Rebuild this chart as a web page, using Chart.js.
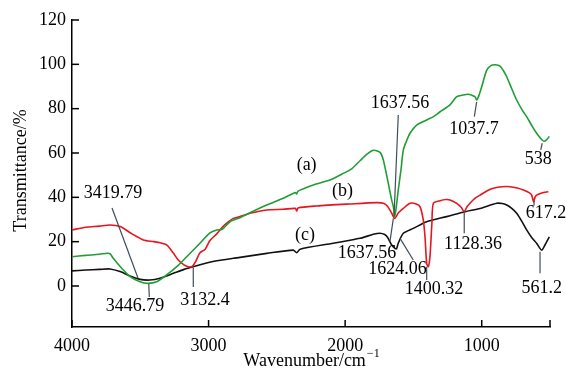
<!DOCTYPE html>
<html><head><meta charset="utf-8">
<script src="https://cdn.jsdelivr.net/npm/chart.js@4/dist/chart.umd.min.js"></script>
</head><body style="margin:0">
<canvas id="c" width="566" height="377"></canvas>
<script>
// ---- data (wavenumber cm^-1, transmittance %) ----
const wnA = [4000,3900,3800,3740,3720,3698,3636,3575,3502,3446,3380,3307,3233,3160,3063,2990,2940,2900,2843,2770,2697,2574,2453,2365,2355,2345,2233,2111,2013,1950,1891,1840,1794,1760,1740,1720,1684,1660,1647,1637,1625,1611,1590,1574,1550,1525,1476,1403,1350,1305,1232,1183,1135,1100,1070,1049,1037,1020,1000,963,930,900,866,840,817,780,744,700,671,630,598,560,540,520,505];
const tA  = [13.2,13.8,14.3,14.8,14.5,12.5,8.0,4.2,1.9,1.2,1.9,5.0,8.7,13.2,19.3,24.0,25.3,25.6,29.0,30.8,33.0,36.5,39.6,42.2,41.5,42.8,45.6,47.8,50.8,53.0,56.5,59.5,61.2,60.8,60.0,56.8,46.3,39.0,35.8,31.3,36.0,43.3,53.0,61.4,65.5,68.9,72.6,74.9,76.5,78.6,81.7,85.4,86.2,86.5,86.0,85.4,83.9,86.0,89.9,97.4,99.5,99.8,99.2,97.0,94.4,89.0,83.9,79.0,76.4,72.0,68.9,66.0,65.3,66.3,67.5];
const wnB = [4000,3900,3800,3722,3648,3560,3478,3400,3356,3307,3260,3222,3180,3148,3120,3095,3063,3026,2990,2940,2900,2867,2819,2770,2697,2574,2453,2365,2355,2345,2208,1964,1769,1720,1690,1660,1637,1610,1574,1525,1480,1452,1428,1415,1403,1391,1379,1365,1354,1305,1260,1232,1183,1150,1128,1110,1086,1050,1012,960,915,850,793,740,695,650,634,620,610,598,560,512];
const tB  = [25.3,26.5,27.0,27.5,26.8,23.5,20.8,20.0,19.5,18.5,15.0,11.7,9.5,8.7,8.8,11.0,15.0,16.5,20.5,23.5,26.5,28.4,30.5,31.3,32.8,34.3,34.6,35.0,33.8,35.2,36.1,37.0,37.6,37.3,36.0,33.0,30.5,33.0,35.0,37.3,37.0,35.8,29.8,22.0,10.2,8.7,13.2,28.0,37.3,38.5,39.0,38.8,37.3,35.5,33.5,35.5,37.3,39.5,41.0,43.0,44.1,44.8,44.8,44.2,43.3,42.0,41.0,38.0,40.0,41.0,42.0,42.5];
const wnC = [4000,3900,3800,3722,3648,3575,3502,3429,3356,3258,3180,3112,3000,2940,2819,2770,2574,2380,2355,2330,2087,1891,1794,1745,1710,1690,1659,1635,1624,1611,1574,1501,1403,1257,1122,1012,890,850,817,780,744,700,671,630,598,561,537,505];
const tC  = [6.8,7.2,7.5,7.7,6.5,4.5,3.0,2.7,3.5,5.7,7.5,8.7,10.6,11.4,12.5,12.9,14.7,16.2,15.0,16.6,19.3,21.5,23.3,23.8,23.2,22.0,18.5,17.0,16.8,19.3,23.8,26.0,29.0,31.3,33.5,35.0,37.3,37.2,36.5,35.0,32.8,28.5,25.3,21.5,19.3,16.2,18.5,22.2];

const xTicks = [4000,3000,2000,1000,500];
const yTicks = [0,20,40,60,80,100,120];
const seriesLabels = ['(a)','(b)','(c)'];
// annotation labels: text, label centre (wn, %), leader line (wn1,%1,wn2,%2)
const peakLabels = [
  {t:'3419.79', x:3700, y:42.0, l:[3707,35.2,3517,3.6]},
  {t:'3446.79', x:3539, y:-9.0, l:[3438,0.9,3434,-5.0]},
  {t:'3132.4',  x:3026, y:-6.3, l:[3112,8.1,3112,-0.5]},
  {t:'1637.56', x:1598, y:82.3, l:[1611,77.1,1642,31.6]},
  {t:'1037.7',  x:1057, y:70.8, l:[1037,83.1,1054,76.4]},
  {t:'538',     x:586,  y:57.3, l:[557,64.4,568,61.4]},
  {t:'617.2',   x:529,  y:33.0, l:[617,38.3,617,36.3]},
  {t:'1637.56', x:1840, y:14.9, l:[1672,20.0,1647,30.5]},
  {t:'1624.06', x:1617, y:7.7,  l:[1598,21.5,1501,11.7]},
  {t:'1400.32', x:1349, y:-1.4, l:[1403,8.7,1403,2.7]},
  {t:'1128.36', x:1064, y:18.9, l:[1128,33.5,1128,23.8]},
  {t:'561.2',   x:561,  y:-0.9, l:[573,15.5,573,5.7]},
];
const seriesLabelPos = [{x:2282,y:54.3},{x:2019,y:42.9},{x:2294,y:23.0}];

const FAM = '"Liberation Serif", serif';
const FONT = '18px "Liberation Serif", serif';
const SUPFONT = '12px "Liberation Serif", serif';
const pts = (xs, ys) => xs.map((x,i)=>({x:x, y:ys[i]}));

const decor = {
  id:'decor',
  afterDraw(chart){
    const ctx = chart.ctx, xs = chart.scales.x, ys = chart.scales.y;
    const ca = chart.chartArea;
    ctx.save();
    ctx.strokeStyle = '#000'; ctx.lineWidth = 1.5;
    xTicks.forEach(v=>{const px = xs.getPixelForValue(v);
      ctx.beginPath(); ctx.moveTo(px, ca.bottom); ctx.lineTo(px, ca.bottom-7); ctx.stroke();});
    yTicks.forEach(v=>{const py = ys.getPixelForValue(v);
      ctx.beginPath(); ctx.moveTo(ca.left, py); ctx.lineTo(ca.left+7, py); ctx.stroke();});
    ctx.strokeStyle = '#3d4f5a'; ctx.lineWidth = 1.2;
    peakLabels.forEach(a=>{
      ctx.beginPath();
      ctx.moveTo(xs.getPixelForValue(a.l[0]), ys.getPixelForValue(a.l[1]));
      ctx.lineTo(xs.getPixelForValue(a.l[2]), ys.getPixelForValue(a.l[3]));
      ctx.stroke();
    });
    ctx.fillStyle = '#000'; ctx.font = FONT; ctx.textAlign='center'; ctx.textBaseline='middle';
    peakLabels.forEach(a=>ctx.fillText(a.t, xs.getPixelForValue(a.x), ys.getPixelForValue(a.y)));
    seriesLabels.forEach((s,i)=>ctx.fillText(s, xs.getPixelForValue(seriesLabelPos[i].x), ys.getPixelForValue(seriesLabelPos[i].y)));
    ctx.textBaseline='alphabetic';
    ctx.save(); ctx.translate(26, 170.5); ctx.rotate(-Math.PI/2);
    ctx.fillText('Transmittance/%', 0, 0); ctx.restore();
    const main = 'Wavenumber/cm', sup = '\u22121';
    ctx.font = FONT; const w1 = ctx.measureText(main).width;
    ctx.font = SUPFONT; const w2 = ctx.measureText(sup).width;
    const x0 = (ca.left+ca.right)/2 - (w1+w2)/2;
    ctx.textAlign='left';
    ctx.font = FONT; ctx.fillText(main, x0, 366);
    ctx.font = SUPFONT; ctx.fillText(sup, x0+w1+1, 357);
    ctx.restore();
  }
};

new Chart(document.getElementById('c'), {
  type:'line',
  data:{datasets:[
    {label:'(a)', data:pts(wnA,tA), borderColor:'#1f9e34', borderWidth:1.6},
    {label:'(b)', data:pts(wnB,tB), borderColor:'#e8141e', borderWidth:1.6},
    {label:'(c)', data:pts(wnC,tC), borderColor:'#111111', borderWidth:1.6},
  ]},
  options:{
    responsive:false, animation:false,
    elements:{point:{radius:0}, line:{tension:0.25}},
    layout:{padding:{top:20,right:16,left:0,bottom:0}},
    plugins:{legend:{display:false}, tooltip:{enabled:false}},
    scales:{
      x:{type:'linear', reverse:true, min:500, max:4000,
        grid:{display:false, drawTicks:false}, border:{display:true,color:'#000',width:1.5},
        afterBuildTicks:s=>{s.ticks = xTicks.map(v=>({value:v}));},
        afterFit:s=>{s.height = 50;},
        ticks:{color:'#000', font:{family:FAM, size:18}, padding:8, maxRotation:0, autoSkip:false,
          callback:v=> v===500 ? '' : String(v)}},
      y:{type:'linear', min:-18.5, max:120,
        grid:{display:false, drawTicks:false}, border:{display:true,color:'#000',width:1.5},
        afterBuildTicks:s=>{s.ticks = yTicks.map(v=>({value:v}));},
        afterFit:s=>{s.width = 72;},
        ticks:{color:'#000', font:{family:FAM, size:18}, padding:6}}
    }
  },
  plugins:[decor]
});
</script></body></html>
